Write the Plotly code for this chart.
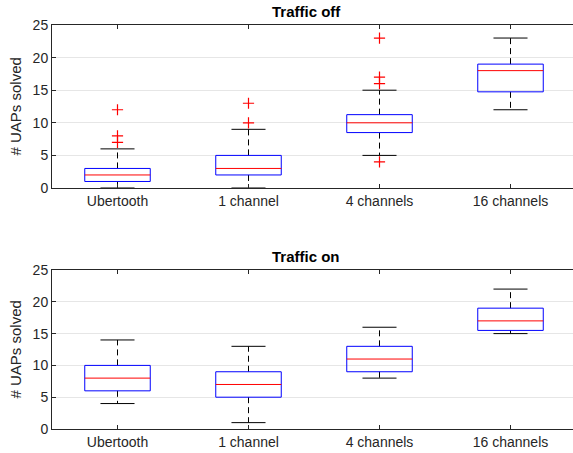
import plotly.graph_objects as go

# Categories and box statistics (one entry per category)
categories = ["Ubertooth", "1 channel", "4 channels", "16 channels"]

# Traffic off
off_q1 = [1, 2, 8.5, 14.75]
off_median = [2, 3, 10, 18]
off_q3 = [3, 5, 11.25, 19]
off_lower = [0, 0, 5, 12]
off_upper = [6, 9, 15, 23]
off_outliers = [[7, 8, 12], [10, 13], [4, 16, 17, 23], []]

# Traffic on
on_q1 = [6, 5, 9, 15.5]
on_median = [8, 7, 11, 17]
on_q3 = [10, 9, 13, 19]
on_lower = [4, 1, 8, 15]
on_upper = [14, 13, 16, 22]
on_outliers = [[], [], [], []]

y_ticks = [0, 5, 10, 15, 20, 25]

W = 573
H = 453
BOX_HALF = 0.25
CAP_HALF = 0.13

FONT = "Liberation Sans, Arial, Helvetica, sans-serif"
AX_COLOR = "#262626"

fig = go.Figure()


def add_boxes(q1, med, q3, lo, hi, outl, xa, ya):
    pos = list(range(1, len(categories) + 1))
    bx, by, mx, my, wx, wy, cx, cy, ox, oy = [], [], [], [], [], [], [], [], [], []
    for p, a, m, b, l, h, o in zip(pos, q1, med, q3, lo, hi, outl):
        bx += [p - BOX_HALF, p + BOX_HALF, p + BOX_HALF, p - BOX_HALF, p - BOX_HALF, None]
        by += [a, a, b, b, a, None]
        mx += [p - BOX_HALF, p + BOX_HALF, None]
        my += [m, m, None]
        wx += [p, p, None, p, p, None]
        wy += [b, h, None, a, l, None]
        cx += [p - CAP_HALF, p + CAP_HALF, None, p - CAP_HALF, p + CAP_HALF, None]
        cy += [h, h, None, l, l, None]
        ox += [p] * len(o)
        oy += o
    common = dict(xaxis=xa, yaxis=ya, showlegend=False, hoverinfo="skip")
    # dashed whiskers
    fig.add_trace(go.Scatter(x=wx, y=wy, mode="lines",
                             line=dict(color="black", width=1, dash="6px,4px"), **common))
    # whisker caps
    fig.add_trace(go.Scatter(x=cx, y=cy, mode="lines",
                             line=dict(color="black", width=1), **common))
    # boxes
    fig.add_trace(go.Scatter(x=bx, y=by, mode="lines",
                             line=dict(color="#0000ff", width=1), **common))
    # medians
    fig.add_trace(go.Scatter(x=mx, y=my, mode="lines",
                             line=dict(color="#ff0000", width=1), **common))
    # outliers
    if ox:
        fig.add_trace(go.Scatter(x=ox, y=oy, mode="markers",
                                 marker=dict(symbol="cross-thin", size=8,
                                             line=dict(color="#ff0000", width=1.2)),
                                 **common))


add_boxes(off_q1, off_median, off_q3, off_lower, off_upper, off_outliers, "x", "y")
add_boxes(on_q1, on_median, on_q3, on_lower, on_upper, on_outliers, "x2", "y2")

x_left = 52
px_per_cat = 131
x_range = [0.5, 0.5 + (W - x_left) / px_per_cat]

xaxis_style = dict(
    range=x_range,
    domain=[x_left / W, 1],
    tickmode="array",
    tickvals=list(range(1, len(categories) + 1)),
    ticktext=categories,
    ticks="inside",
    ticklen=4,
    tickcolor=AX_COLOR,
    showline=True,
    linecolor=AX_COLOR,
    linewidth=1,
    mirror="ticks",
    showgrid=False,
    zeroline=False,
    automargin=False,
    tickfont=dict(family=FONT, size=14, color=AX_COLOR),
)
yaxis_style = dict(
    range=[0, 25],
    tickmode="array",
    tickvals=y_ticks,
    ticks="inside",
    ticklen=4,
    tickcolor=AX_COLOR,
    showline=True,
    linecolor=AX_COLOR,
    linewidth=1,
    mirror=False,
    showgrid=True,
    gridcolor="#e6e6e6",
    gridwidth=1,
    zeroline=False,
    automargin=False,
    tickfont=dict(family=FONT, size=14, color=AX_COLOR),
)
# right-hand tick marks only (the right border falls at the page edge)
right_ticks = dict(
    range=[0, 25],
    tickmode="array",
    tickvals=y_ticks,
    ticks="inside",
    ticklen=4,
    tickcolor=AX_COLOR,
    showticklabels=False,
    showline=False,
    showgrid=False,
    zeroline=False,
    automargin=False,
    side="right",
)

top = (25, 188)
bot = (270, 429)

fig.update_layout(
    width=W,
    height=H,
    margin=dict(l=0, r=0, t=0, b=0, pad=0),
    paper_bgcolor="white",
    plot_bgcolor="white",
    xaxis=dict(anchor="y", **xaxis_style),
    yaxis=dict(anchor="x", domain=[(H - top[1]) / H, (H - top[0]) / H], **yaxis_style),
    xaxis2=dict(anchor="y2", **xaxis_style),
    yaxis2=dict(anchor="x2", domain=[(H - bot[1]) / H, (H - bot[0]) / H], **yaxis_style),
    yaxis3=dict(anchor="x", overlaying="y", **right_ticks),
    yaxis4=dict(anchor="x2", overlaying="y2", **right_ticks),
)

# panel titles and y-axis labels
for title, (y0, y1) in [("Traffic off", top), ("Traffic on", bot)]:
    fig.add_annotation(text=f"<b>{title}</b>", xref="paper", yref="paper",
                       x=306 / W, y=(H - (y0 - 14)) / H, xanchor="center", yanchor="middle",
                       showarrow=False, font=dict(family=FONT, size=15, color="black"))
    fig.add_annotation(text="# UAPs solved", xref="paper", yref="paper",
                       x=15 / W, y=(H - (y0 + y1) / 2) / H, xanchor="center", yanchor="middle",
                       textangle=-90, showarrow=False,
                       font=dict(family=FONT, size=15, color=AX_COLOR))

fig.write_html("out.html")
